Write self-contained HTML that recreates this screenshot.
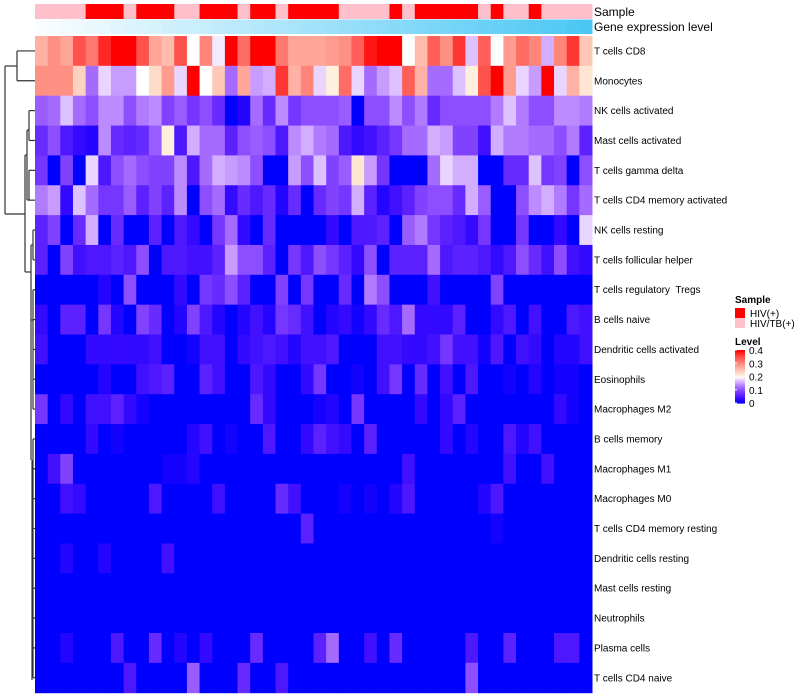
<!DOCTYPE html>
<html><head><meta charset="utf-8"><style>
body{margin:0;background:#fff;width:800px;height:700px;overflow:hidden;font-family:"Liberation Sans",sans-serif}
svg{display:block}
text{white-space:pre}
</style></head><body>
<svg id="chart" width="800" height="700"></svg>
<script>
const rowNames=["T cells CD8","Monocytes","NK cells activated","Mast cells activated","T cells gamma delta","T cells CD4 memory activated","NK cells resting","T cells follicular helper","T cells regulatory  Tregs","B cells naive","Dendritic cells activated","Eosinophils","Macrophages M2","B cells memory","Macrophages M1","Macrophages M0","T cells CD4 memory resting","Dendritic cells resting","Mast cells resting","Neutrophils","Plasma cells","T cells CD4 naive"];
const sampleGroups="PPPPRRRPRRRPPRRRPRRPRRRRPPPPRPRRRRRPRPPRPPPP".split("");
const r0=[0.27,0.3,0.28,0.35,0.32,0.38,0.4,0.4,0.35,0.28,0.26,0.35,0.2,0.31,0.19,0.4,0.33,0.4,0.4,0.32,0.28,0.28,0.28,0.29,0.3,0.34,0.39,0.4,0.4,0.2,0.26,0.34,0.3,0.37,0.17,0.34,0.2,0.29,0.33,0.31,0.16,0.31,0.37,0.25];
const r1=[0.3,0.3,0.3,0.24,0.12,0.18,0.15,0.15,0.2,0.23,0.29,0.18,0.4,0.2,0.25,0.12,0.28,0.15,0.16,0.37,0.27,0.31,0.18,0.21,0.33,0.18,0.12,0.15,0.17,0.34,0.27,0.12,0.12,0.17,0.21,0.35,0.4,0.29,0.18,0.15,0.4,0.18,0.27,0.22];
const r2=[0.11,0.12,0.17,0.12,0.1,0.14,0.14,0.1,0.13,0.14,0.09,0.11,0.08,0.1,0.07,0,0.02,0.12,0.07,0.14,0.08,0.1,0.1,0.1,0.11,0,0.1,0.1,0.14,0.1,0.13,0.07,0.1,0.1,0.1,0.1,0.13,0.17,0.13,0.1,0.1,0.14,0.14,0.13];
const r3=[0.07,0.1,0.05,0.03,0.02,0.14,0.07,0.06,0.07,0.11,0.21,0.05,0.16,0.12,0.12,0.06,0.1,0.11,0.1,0.05,0.14,0.16,0.13,0.12,0.05,0.03,0.04,0.06,0.08,0.12,0.12,0.16,0.15,0.09,0.09,0.04,0.16,0.13,0.13,0.12,0.12,0.1,0.13,0.06];
const r4=[0.08,0,0.09,0,0.18,0.05,0.1,0.12,0.1,0.09,0.09,0.14,0.05,0.12,0.16,0.15,0.14,0.1,0,0,0.15,0.1,0.17,0.09,0.11,0.22,0.15,0.08,0,0,0,0.12,0.18,0.16,0.16,0,0,0.07,0.07,0.17,0.08,0.09,0,0.1];
const r5=[0.13,0.15,0.03,0.17,0.12,0.08,0.08,0.11,0.06,0.09,0.06,0.14,0,0.1,0.12,0.03,0.07,0.05,0.07,0.02,0.07,0,0.07,0.09,0.08,0.16,0.06,0.02,0.04,0.06,0.09,0.1,0.1,0.07,0.16,0.11,0,0,0.1,0.14,0.16,0.13,0.08,0.12];
const r6=[0.06,0.09,0,0.07,0.16,0,0.07,0,0,0.06,0,0.05,0.03,0,0.08,0.12,0.03,0,0.07,0,0,0,0,0.03,0,0.05,0.05,0.06,0,0.11,0.13,0.08,0.06,0.05,0.03,0.08,0,0,0.08,0,0,0.03,0,0.18];
const r7=[0.06,0,0.09,0.04,0.05,0.05,0.06,0.05,0.1,0,0.05,0.05,0.04,0.04,0.06,0.15,0.1,0.1,0.06,0,0.08,0.05,0.1,0.08,0.06,0.03,0.1,0,0.06,0.06,0.06,0.12,0.05,0.06,0.06,0.05,0.03,0.05,0.1,0.07,0.04,0.1,0.04,0.03];
const r8=[0,0,0,0,0,0.02,0,0.1,0,0,0,0.03,0,0.08,0.07,0.1,0.06,0,0,0.09,0,0.08,0,0,0.07,0,0.13,0.1,0,0,0,0.04,0,0,0,0,0.09,0,0,0,0,0,0,0];
const r9=[0.03,0,0.06,0.06,0,0.08,0.02,0,0.09,0.07,0,0.02,0.09,0.05,0.02,0,0.02,0.04,0.02,0.08,0.07,0.04,0,0.02,0.03,0.01,0.03,0.07,0.05,0.12,0.03,0.03,0.03,0.06,0,0,0.03,0.05,0,0.04,0,0,0.05,0.04];
const r10=[0.04,0,0,0,0.03,0.03,0.03,0.03,0.03,0.04,0,0,0.01,0.04,0.04,0,0.03,0.04,0.05,0.04,0.02,0.04,0.04,0.05,0,0,0,0.04,0.04,0.03,0.03,0.04,0.08,0.04,0.04,0.01,0.05,0,0.04,0.03,0,0.02,0.02,0.04];
const r11=[0,0,0,0,0,0.02,0,0,0.04,0.05,0.06,0,0,0.06,0.04,0,0,0.05,0.03,0,0,0.03,0.08,0,0,0.01,0,0.04,0.08,0,0.07,0,0.04,0,0.05,0,0,0.01,0,0.02,0,0.01,0.01,0];
const r12=[0.08,0,0.03,0,0.04,0.04,0.06,0.03,0.01,0,0,0,0,0,0,0,0,0.07,0.03,0,0,0,0.01,0.02,0,0.08,0,0,0,0,0.03,0,0.03,0.06,0,0,0,0,0,0,0,0.03,0.01,0];
const r13=[0,0,0,0,0.03,0,0.01,0,0,0,0,0,0.02,0.04,0,0.01,0,0,0.05,0,0,0.03,0.06,0.04,0.03,0,0.06,0,0,0,0,0,0.03,0,0.02,0,0,0.05,0.02,0.04,0,0,0,0];
const r14=[0,0.04,0.09,0,0,0,0,0,0,0,0.01,0.01,0.02,0,0,0,0,0,0,0,0,0,0,0,0,0,0,0,0,0.04,0,0,0,0,0,0,0,0.04,0,0,0.04,0,0,0];
const r15=[0,0,0.04,0.03,0,0,0,0,0,0.05,0,0,0,0,0.04,0,0,0,0,0.07,0.04,0,0,0,0.01,0,0.01,0,0.02,0.05,0,0,0,0,0,0.02,0.05,0,0,0,0,0,0,0];
const r16=[0,0,0,0,0,0,0,0,0,0,0,0,0,0,0,0,0,0,0,0,0,0.06,0,0,0,0,0,0,0,0,0,0,0,0,0,0,0.01,0,0,0,0,0,0,0];
const r17=[0,0,0.02,0,0,0.02,0,0,0,0,0.04,0,0,0,0,0,0,0,0,0,0,0,0,0,0,0,0,0,0,0,0,0,0,0,0,0,0,0,0,0,0,0,0,0];
const r18=[0,0,0,0,0,0,0,0,0,0,0,0,0,0,0,0,0,0,0,0,0,0,0,0,0,0,0,0,0,0,0,0,0,0,0,0,0,0,0,0,0,0,0,0];
const r19=[0,0,0,0,0,0,0,0,0,0,0,0,0,0,0,0,0,0,0,0,0,0,0,0,0,0,0,0,0,0,0,0,0,0,0,0,0,0,0,0,0,0,0,0];
const r20=[0,0,0.02,0,0,0,0.05,0,0,0.07,0,0.02,0,0.03,0,0,0,0.07,0,0,0,0,0.06,0.12,0,0,0.04,0,0.07,0,0,0,0,0,0.05,0,0,0.06,0,0,0,0.05,0.05,0];
const r21=[0,0,0,0,0,0,0,0.05,0,0,0,0,0.11,0,0,0,0.07,0,0,0.05,0,0,0,0,0,0,0,0,0,0,0,0,0,0,0.1,0,0,0,0,0,0,0,0,0];
const rows=[r0,r1,r2,r3,r4,r5,r6,r7,r8,r9,r10,r11,r12,r13,r14,r15,r16,r17,r18,r19,r20,r21];
const legendTicks=[0,0.1,0.2,0.3,0.4];

const NS="http://www.w3.org/2000/svg";
const svg=document.getElementById('chart');
const X0=35,X1=592,Y0=36,RH=29.85,NC=44;
const CW=(X1-X0)/NC;
const xPos=c=>X0+c*CW;
const yPos=r=>Y0+r*RH;
function mk(tag,attrs,parent){const e=document.createElementNS(NS,tag);for(const k in attrs)e.setAttribute(k,attrs[k]);(parent||svg).appendChild(e);return e;}
function col(v){
  v=Math.max(0,Math.min(0.4,v));
  let r,g,b;
  if(v<=0.2){const t=v/0.2;r=255*Math.pow(t,0.85);g=255*Math.pow(t,1.7);b=255;g=Math.min(g,r);}
  else{const s=(v-0.2)/0.2;r=255;g=250*Math.pow(1-s,0.8);b=g*0.92;}
  return `rgb(${Math.round(r)},${Math.round(g)},${Math.round(b)})`;
}
const ann=mk('g',{});


sampleGroups.forEach((s,c)=>{
  const e=mk('rect',{x:xPos(c),y:4,width:CW+0.5,height:15,fill:s==='R'?'#FF0000':'#FFC0CB'},ann);
  
  
});
for(let c=0;c<NC;c++){
  const t=c/(NC-1);
  const r=Math.round(250-t*(250-76)),g=Math.round(253-t*(253-199)),b=Math.round(255-t*(255-244));
  const e=mk('rect',{x:xPos(c),y:19.5,width:CW+0.5,height:14.5,fill:`rgb(${r},${g},${b})`},ann);
  
  
}
let t=mk('text',{x:594,y:16,'font-size':12,fill:'#000'});t.textContent='Sample';


t=mk('text',{x:594,y:31,'font-size':12,fill:'#000'});t.textContent='Gene expression level';


const hm=mk('g',{});


rows.forEach((vals,r)=>{
  vals.forEach((v,c)=>{
    const e=mk('rect',{x:xPos(c),y:yPos(r),width:CW+0.5,height:RH+0.5,fill:col(v)},hm);
    
    
  });
  const l=mk('text',{x:594,y:yPos(r)+RH/2+3.5,'font-size':10,fill:'#000'});
  l.textContent=rowNames[r];
  
  
});
const dg=mk('g',{stroke:'#333','stroke-width':1.2,fill:'none'});


const rc=r=>yPos(r)+RH/2;
const segs=[
 [17,rc(0),35,rc(0)],[17,rc(1),35,rc(1)],[17,rc(0),17,rc(1)],
 [5,66,17,66],[5,66,5,214],[5,214,25,214],
 [25,155,25,272],[25,155,27,155],[27,130,27,200],[27,130,29,130],[29,rc(2),29,rc(3)],[29,rc(2),35,rc(2)],[29,rc(3),35,rc(3)],
 [27,200,29,200],[29,rc(4),29,rc(5)],[29,rc(4),35,rc(4)],[29,rc(5),35,rc(5)],
 [25,272,31,272],[31,245,31,460],[31,245,33,245],[33,rc(6),33,rc(7)],[33,rc(6),35,rc(6)],[33,rc(7),35,rc(7)],
 [31,320,33,320],[33,rc(8),33,rc(12)],
 [32,460,32,680],[33,rc(13),33,rc(21)]
];
segs.forEach(s=>{
  const e=mk('line',{x1:s[0],y1:s[1],x2:s[2],y2:s[3]},dg);
  
  
});
for(let r=8;r<22;r++){
  const e=mk('line',{x1:33,y1:rc(r),x2:35,y2:rc(r)},dg);
  
  
}
const lg=mk('g',{});


t=mk('text',{x:735,y:303,'font-size':10,'font-weight':'bold'},lg);t.textContent='Sample';


[['#FF0000','HIV(+)'],['#FFC0CB','HIV/TB(+)']].forEach((d,i)=>{
  const r=mk('rect',{x:735,y:308+i*10,width:10,height:10,fill:d[0]},lg);
  
  
  const tx=mk('text',{x:750,y:317+i*10,'font-size':10},lg);tx.textContent=d[1];
  
  
});
t=mk('text',{x:735,y:345,'font-size':10,'font-weight':'bold'},lg);t.textContent='Level';


const LB0=403,LB1=350;
for(let i=0;i<54;i++){
  const v=0.4*i/53;
  const r=mk('rect',{x:735,y:LB0-(i+1)*(LB0-LB1)/54,width:10,height:(LB0-LB1)/54+0.6,fill:col(v)},lg);
  
  
}
legendTicks.forEach(v=>{
  const y=LB0-(LB0-LB1)*v/0.4;
  const tx=mk('text',{x:749,y:y+4,'font-size':10},lg);tx.textContent=String(v);
  
  
  const tk=mk('line',{x1:735,x2:737,y1:y,y2:y,stroke:'#fff'},lg);
  
  
});
</script>
</body></html>
